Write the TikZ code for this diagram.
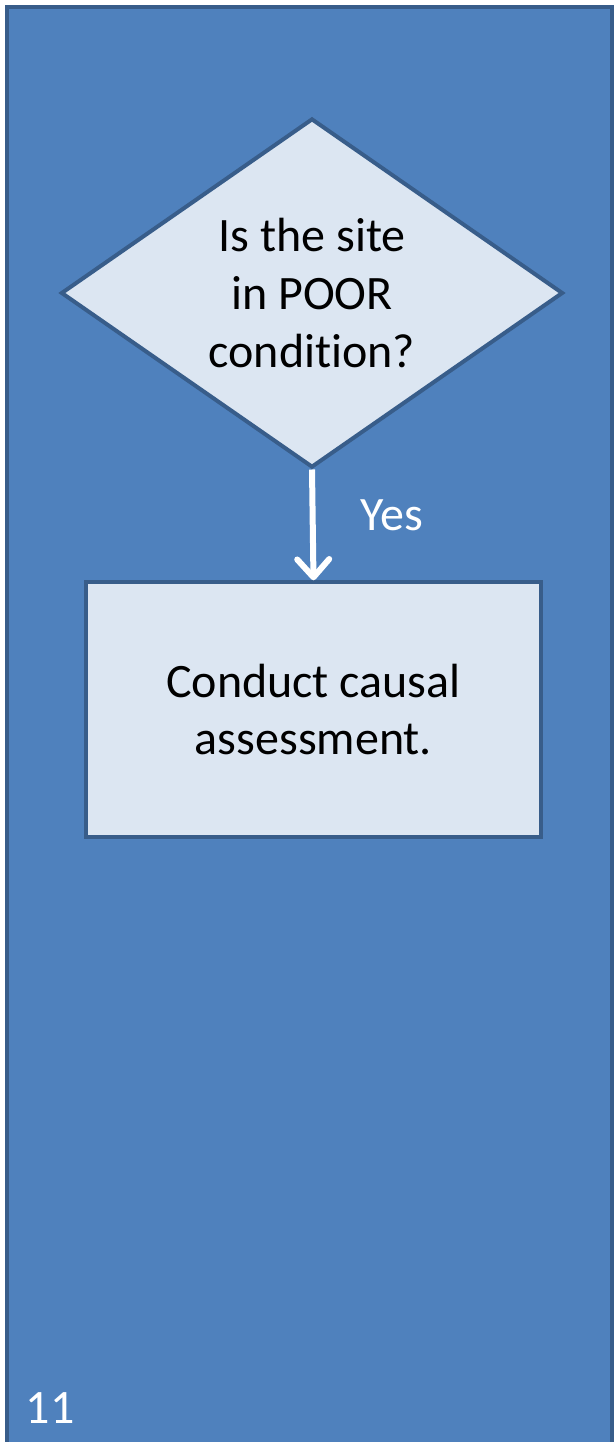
\documentclass[tikz,border=0pt]{standalone}
\usepackage{fontspec}
\setmainfont[RawFeature={-liga;-clig;-dlig}]{Carlito}
\usetikzlibrary{shapes.geometric,arrows.meta}
\definecolor{panelfill}{HTML}{4F81BD}
\definecolor{paneledge}{HTML}{385D8A}
\definecolor{boxfill}{HTML}{DCE6F2}
\tikzset{
  panel/.style={fill=panelfill,draw=paneledge,line width=4pt},
  decision/.style={diamond,fill=boxfill,draw=paneledge,line width=4pt,inner sep=0pt,aspect=1.44,
    minimum width=502pt,minimum height=349pt,align=center,font=\fontsize{48}{58}\selectfont},
  process/.style={rectangle,fill=boxfill,draw=paneledge,line width=3.5pt,
    minimum width=455pt,minimum height=255pt,align=center,font=\fontsize{48}{57}\selectfont},
  flow/.style={white,line width=6pt,-{Straight Barb[length=18pt,width=32pt,line cap=round,line join=round]}},
  lbl/.style={white,font=\fontsize{48}{56}\selectfont,inner sep=0pt}
}
\begin{document}
\begin{tikzpicture}[x=1pt,y=-1pt]
\useasboundingbox (0,0) rectangle (613,1442);
\path[panel] (7,7) rectangle (612,1460);
\node[decision] (q) at (312,293) {Is the site\\in POOR\\condit\kern0pt ion?};
\node[process] (a) at (313.5,709.5) {Conduct causal\\assessment.};
\draw[flow] (q.south) -- (a.north);
\node[lbl] (yes) at (392,515) {Yes};
\node[lbl] (num) at (50,1408) {11};
\end{tikzpicture}
\end{document}
